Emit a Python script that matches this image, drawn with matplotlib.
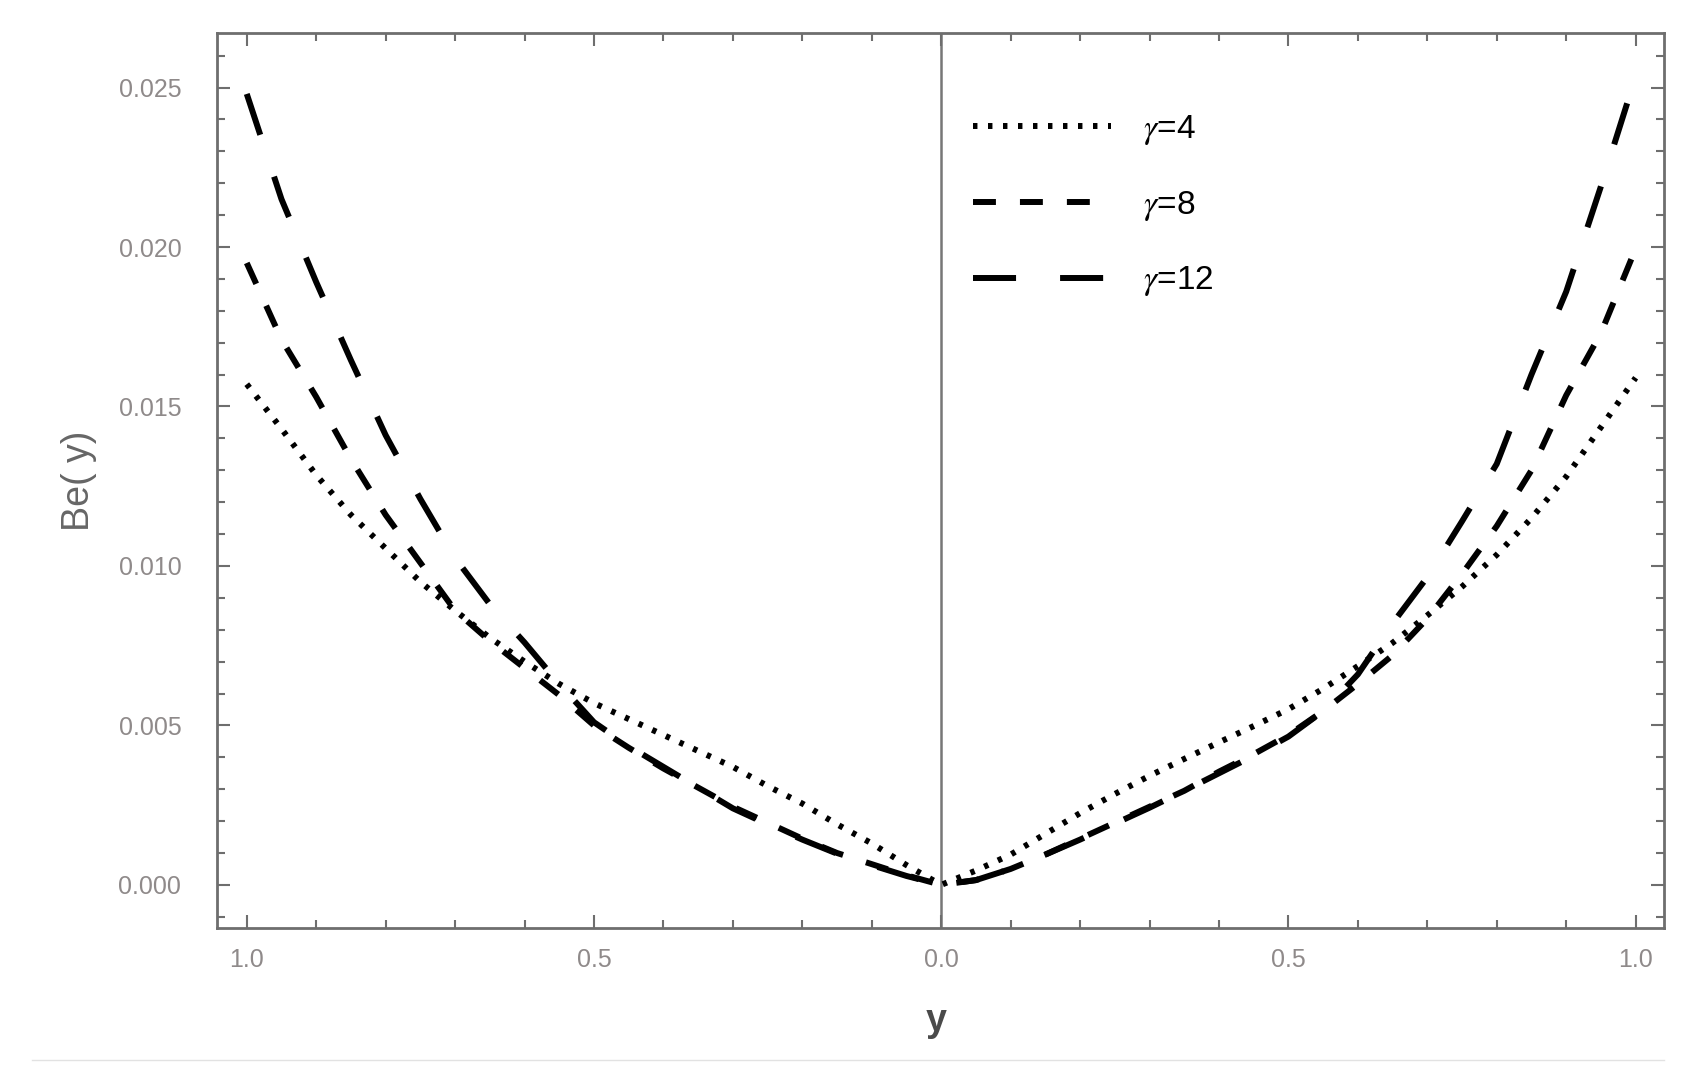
import numpy as np
import matplotlib
matplotlib.use('Agg')
import matplotlib.pyplot as plt
from matplotlib.ticker import FixedLocator, MultipleLocator
from matplotlib.lines import Line2D

# sample positions along y
y_pos = [-1.0, -0.95, -0.9, -0.85, -0.8, -0.75, -0.7, -0.65, -0.6, -0.55, -0.5,
         -0.45, -0.4, -0.35, -0.3, -0.25, -0.2, -0.15, -0.1, -0.05, 0.0,
         0.05, 0.1, 0.15, 0.2, 0.25, 0.3, 0.35, 0.4, 0.45, 0.5,
         0.55, 0.6, 0.65, 0.7, 0.75, 0.8, 0.85, 0.9, 0.95, 1.0]

# Be(y) in units of 1e-3
be_g4 = [15.7, 14.3, 12.85, 11.6, 10.55, 9.5, 8.6, 7.75, 7.0, 6.3, 5.7,
         5.2, 4.7, 4.2, 3.7, 3.1, 2.55, 1.9, 1.3, 0.62, 0.0,
         0.45, 0.95, 1.6, 2.25, 2.85, 3.42, 3.95, 4.47, 4.98, 5.51,
         6.15, 6.86, 7.59, 8.45, 9.35, 10.35, 11.5, 12.8, 14.35, 15.9]
be_g8 = [19.5, 17.1, 15.3, 13.35, 11.6, 10.1, 8.6, 7.65, 6.8, 5.95, 5.0,
         4.3, 3.65, 3.05, 2.45, 1.95, 1.45, 1.0, 0.65, 0.3, 0.0,
         0.15, 0.5, 0.95, 1.45, 1.95, 2.45, 2.95, 3.55, 4.1, 4.7,
         5.45, 6.3, 7.2, 8.35, 9.75, 11.25, 13.0, 15.35, 17.3, 19.95]
be_g12 = [24.8, 21.5, 18.9, 16.45, 14.1, 12.1, 10.25, 8.8, 7.6, 6.3, 5.1,
          4.35, 3.7, 3.05, 2.4, 1.9, 1.42, 0.98, 0.62, 0.28, 0.0,
          0.15, 0.5, 0.95, 1.42, 1.92, 2.42, 2.95, 3.5, 4.05, 4.65,
          5.45, 6.6, 8.2, 9.65, 11.4, 13.2, 16.0, 18.6, 21.9, 25.35]

labels = [r'$\gamma$=4', r'$\gamma$=8', r'$\gamma$=12']
x_ticks = [-1.0, -0.5, 0.0, 0.5, 1.0]
x_ticklabels = ['1.0', '0.5', '0.0', '0.5', '1.0']
y_ticks = [0.0, 0.005, 0.010, 0.015, 0.020, 0.025]
y_ticklabels = ['0.000', '0.005', '0.010', '0.015', '0.020', '0.025']

plt.rcParams['font.family'] = ['Liberation Sans', 'DejaVu Sans']
plt.rcParams['mathtext.fontset'] = 'stix'
plt.rcParams['lines.scale_dashes'] = False

fig = plt.figure(figsize=(17.05, 10.89), dpi=100)
ax = fig.add_axes([0.1275, 0.1476, 0.8486, 0.8218])

yy = np.array(y_pos)
lw = 4.3
ax.plot(yy, np.array(be_g4) * 1e-3, color='black', lw=lw, dashes=(3.2, 7.6),
        dash_capstyle='butt', label=labels[0])
ax.plot(yy, np.array(be_g8) * 1e-3, color='black', lw=lw, dashes=(16.5, 17.3),
        dash_capstyle='butt', label=labels[1])
ax.plot(yy, np.array(be_g12) * 1e-3, color='black', lw=lw, dashes=(31, 31.7),
        dash_capstyle='butt', label=labels[2])

ax.axvline(0.0, color='#777777', lw=1.8, zorder=1)

ax.set_xlim(-1.0423, 1.0412)
ax.set_ylim(-0.00136, 0.0267)

ax.xaxis.set_major_locator(FixedLocator(x_ticks))
ax.set_xticklabels(x_ticklabels)
ax.xaxis.set_minor_locator(MultipleLocator(0.1))
ax.yaxis.set_major_locator(FixedLocator(y_ticks))
ax.set_yticklabels(y_ticklabels)
ax.yaxis.set_minor_locator(MultipleLocator(0.001))

gray = '#6e6e6e'
for s in ax.spines.values():
    s.set_color(gray)
    s.set_linewidth(2.0)
ax.tick_params(which='both', direction='in', top=True, right=True,
               color=gray, width=1.5)
ax.tick_params(which='major', length=9.5)
ax.tick_params(which='minor', length=6)
ax.tick_params(axis='y', which='major', pad=26, labelsize=18, labelcolor='#8f8a8a')
ax.tick_params(axis='x', which='major', pad=14, labelsize=18, labelcolor='#8f8a8a')

ax.set_ylabel('Be( y)', fontsize=27, color='#666666')
ax.yaxis.set_label_coords(-0.083, 0.5)
ax.set_xlabel('y', fontsize=27, color='#4a4a4a', fontweight='bold')
ax.xaxis.set_label_coords(0.497, -0.083)

leg = ax.legend(loc='upper left', bbox_to_anchor=(973 / 1705, 1 - 113 / 1089),
                bbox_transform=fig.transFigure, frameon=False, fontsize=24,
                handlelength=4.15, handletextpad=0.95, labelspacing=1.25,
                borderpad=0, borderaxespad=0)

fig.add_artist(Line2D([0.019, 0.976], [0.0266, 0.0266], color='#e2e2e2', lw=1,
                      transform=fig.transFigure))

fig.savefig('out.png', dpi=100)
